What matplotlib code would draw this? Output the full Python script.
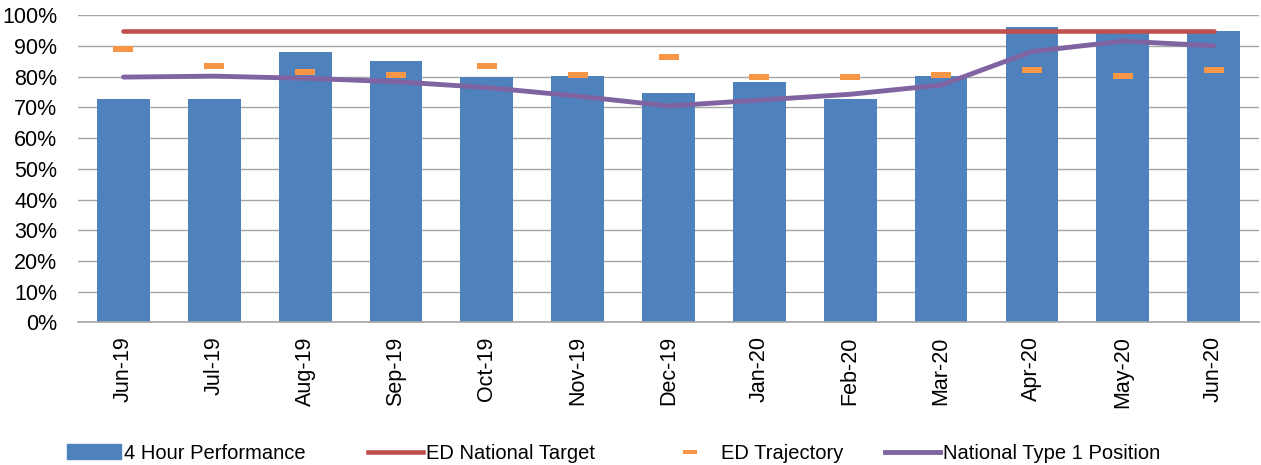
import numpy as np
import matplotlib.pyplot as plt
from matplotlib.ticker import MultipleLocator, FuncFormatter
from matplotlib.patches import Patch
from matplotlib.lines import Line2D

plt.rcParams['font.family'] = ['Liberation Sans', 'DejaVu Sans']

# Data (percent)
months = ['Jun-19', 'Jul-19', 'Aug-19', 'Sep-19', 'Oct-19', 'Nov-19', 'Dec-19',
          'Jan-20', 'Feb-20', 'Mar-20', 'Apr-20', 'May-20', 'Jun-20']
performance = [72.8, 72.8, 88.0, 85.2, 79.9, 80.3, 74.7, 78.4, 72.8, 80.3, 96.1, 94.5, 94.8]
national_target = [95] * 13
trajectory = [89.0, 83.5, 81.4, 80.7, 83.5, 80.7, 86.3, 79.9, 79.9, 80.7, 82.3, 80.2, 82.3]
type1_position = [79.9, 80.2, 79.5, 78.4, 76.5, 73.7, 70.5, 72.4, 74.3, 77.3, 88.2, 91.6, 90.1]

# Colours
blue = '#4F81BD'
red = '#C0504D'
orange = '#F79646'
purple = '#8064A2'
grid_col = '#A6A6A6'

fig = plt.figure(figsize=(12.61, 4.65), dpi=100)
ax = fig.add_axes([0.0619, 0.3065, 0.9365, 0.6605])

x = np.arange(len(months))
dash = [(-1, -0.25), (1, -0.25), (1, 0.25), (-1, 0.25), (-1, -0.25)]

ax.bar(x, performance, width=0.58, color=blue, zorder=2)
ax.plot(x, national_target, color=red, lw=3.3, solid_capstyle='round', zorder=3)
ax.plot(x, trajectory, ls='none', marker=dash, markersize=15, color=orange,
        markeredgewidth=0, zorder=4)
ax.plot(x, type1_position, color=purple, lw=3.5, solid_capstyle='round', zorder=5)

# Axes formatting
ax.set_xlim(-0.5, len(months) - 0.5)
ax.set_ylim(0, 100)
ax.yaxis.set_major_locator(MultipleLocator(10))
ax.yaxis.set_major_formatter(FuncFormatter(lambda v, p: f'{v:.0f}%'))
ax.set_xticks(x)
ax.set_xticklabels(months, rotation=90)
ax.tick_params(axis='both', length=0, labelsize=15.5, colors='black')
ax.tick_params(axis='x', pad=10)
ax.tick_params(axis='y', pad=15)
ax.grid(axis='y', color=grid_col, lw=1.0, zorder=0)
ax.set_axisbelow(True)
for s in ['top', 'right', 'left']:
    ax.spines[s].set_visible(False)
ax.spines['bottom'].set_color(grid_col)
ax.spines['bottom'].set_linewidth(1.2)

# Legend, one entry per slot like the original
handles = [
    (Patch(color=blue), '4 Hour Performance', 0.053),
    (Line2D([], [], color=red, lw=3.3), 'ED National Target', 0.292),
    (Line2D([], [], ls='none', marker=dash, markersize=10, color=orange,
            markeredgewidth=0), 'ED Trajectory', 0.526),
    (Line2D([], [], color=purple, lw=3.5), 'National Type 1 Position', 0.702),
]
for h, lab, xpos in handles:
    fig.legend([h], [lab], loc='center left', bbox_to_anchor=(xpos, 0.025),
               frameon=False, fontsize=14.5, handlelength=2.7, handleheight=0.75,
               handletextpad=0.15, borderpad=0, borderaxespad=0)

plt.savefig('out.png', dpi=100)
